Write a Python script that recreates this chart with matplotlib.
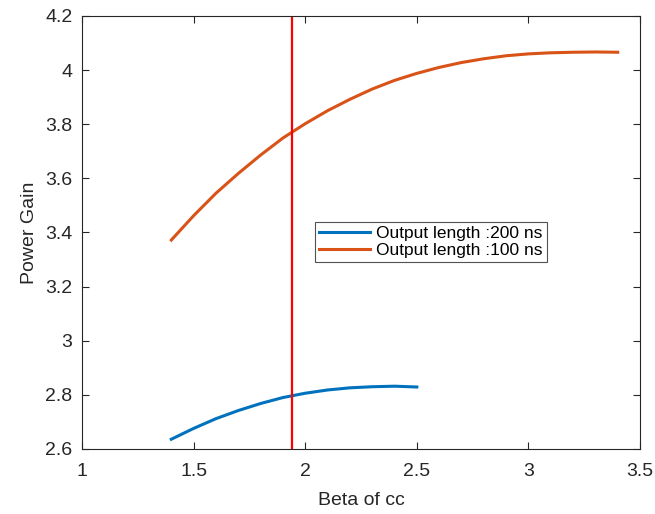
import matplotlib
matplotlib.use("Agg")
import matplotlib.pyplot as plt

plt.rcParams["font.family"] = ["Liberation Sans", "DejaVu Sans"]

beta = [1.4, 1.5, 1.6, 1.7, 1.8, 1.9, 2.0, 2.1, 2.2, 2.3, 2.4, 2.5]
gain_200ns = [2.636, 2.676, 2.712, 2.742, 2.768, 2.790, 2.806, 2.818, 2.826, 2.830, 2.832, 2.829]

beta_100 = [1.4, 1.5, 1.6, 1.7, 1.8, 1.9, 2.0, 2.1, 2.2, 2.3, 2.4, 2.5,
            2.6, 2.7, 2.8, 2.9, 3.0, 3.1, 3.2, 3.3, 3.4]
gain_100ns = [3.372, 3.462, 3.545, 3.618, 3.686, 3.749, 3.802, 3.850, 3.892, 3.930,
              3.962, 3.988, 4.010, 4.028, 4.042, 4.053, 4.060, 4.064, 4.066, 4.067, 4.066]

beta_marker = 1.94
labels = ["Output length :200 ns", "Output length :100 ns"]

dark = "#262626"
fig = plt.figure(figsize=(6.55, 5.14), dpi=100)
ax = fig.add_axes([0.1252, 0.1265, 0.852, 0.8424])

ax.plot(beta, gain_200ns, color="#0072BD", lw=2.2, label=labels[0])
ax.plot(beta_100, gain_100ns, color="#D95319", lw=2.2, label=labels[1])
ax.axvline(beta_marker, color="#FF0000", lw=1.6)

ax.set_xlim(1, 3.5)
ax.set_ylim(2.6, 4.2)
ax.set_xticks([1, 1.5, 2, 2.5, 3, 3.5])
ax.set_xticklabels(["1", "1.5", "2", "2.5", "3", "3.5"])
ax.set_yticks([2.6, 2.8, 3, 3.2, 3.4, 3.6, 3.8, 4, 4.2])
ax.set_yticklabels(["2.6", "2.8", "3", "3.2", "3.4", "3.6", "3.8", "4", "4.2"])
ax.tick_params(direction="in", top=True, right=True, length=5, width=0.8,
               colors=dark, labelsize=14, labelcolor=dark)
ax.tick_params(axis="x", pad=10)
ax.tick_params(axis="y", pad=7)
for s in ax.spines.values():
    s.set_color(dark)
    s.set_linewidth(0.8)

ax.set_xlabel("Beta of cc", fontsize=14, color=dark, labelpad=9)
ax.set_ylabel("Power Gain", fontsize=14, color=dark, labelpad=5)

leg = ax.legend(loc="lower left", bbox_to_anchor=(0.4176, 0.432), borderaxespad=0,
                fontsize=12.5, frameon=True, fancybox=False, handlelength=2.9,
                handletextpad=0.35, borderpad=0.25, labelspacing=0.08)
leg.get_frame().set_edgecolor(dark)
leg.get_frame().set_linewidth(0.8)

fig.savefig("out.png", dpi=100)
